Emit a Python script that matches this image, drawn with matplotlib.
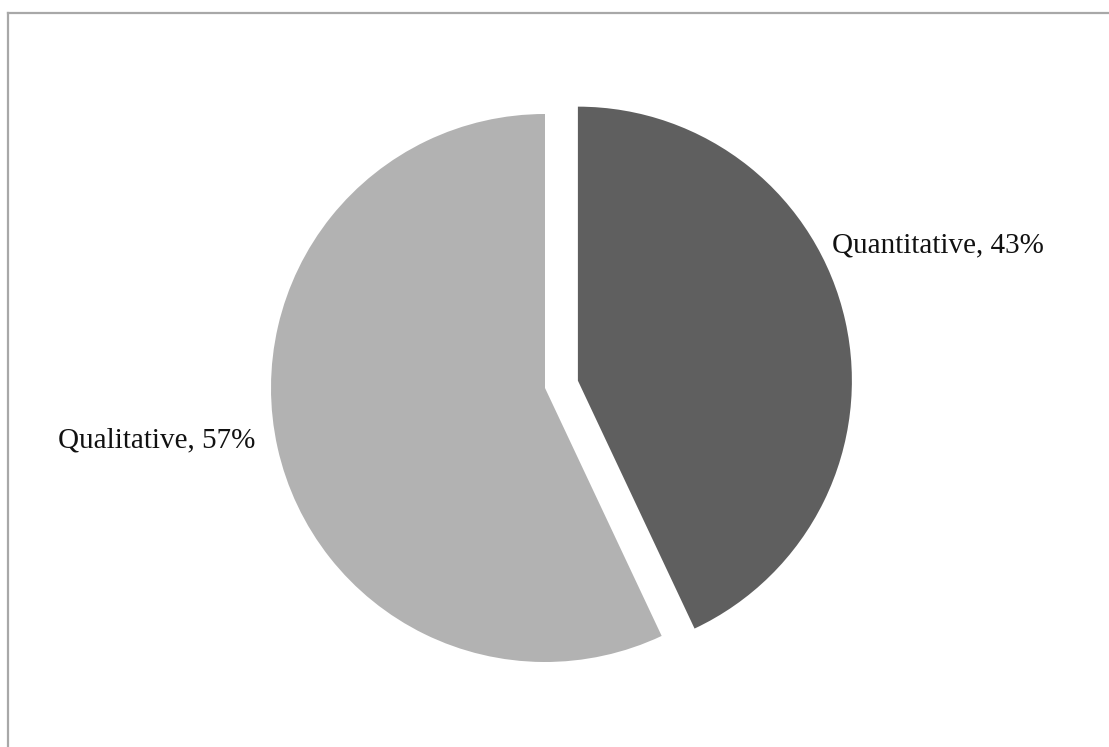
import matplotlib
matplotlib.use("Agg")
import matplotlib.pyplot as plt
from matplotlib.lines import Line2D

# data
categories = ["Quantitative", "Qualitative"]
shares = [43, 57]
colors = ["#5f5f5f", "#b2b2b2"]

W, H = 1109, 747
R = 274
fig = plt.figure(figsize=(W / 100, H / 100), dpi=100)
ax = fig.add_axes([0, 0, 1, 1])

# explode is in data units here (pixels), the dark slice is pulled out
ax.pie(shares, colors=colors, explode=[0.123 * R, 0], startangle=90,
       counterclock=False, center=(545, H - 388), radius=R,
       wedgeprops=dict(linewidth=0))
# pie resets the limits, so put the pixel frame back afterwards
ax.set_xlim(0, W)
ax.set_ylim(0, H)
ax.set_aspect("equal")
ax.axis("off")

# data labels, placed outside like the spreadsheet did
label_pos = [(938, H - 245), (157, H - 440)]
for name, val, (x, y) in zip(categories, shares, label_pos):
    ax.text(x, y, "%s, %d%%" % (name, val), ha="center", va="center",
            fontsize=21, family="Liberation Serif", color="#111111")

# chart frame (only top and left edges are visible in the crop)
fig.add_artist(Line2D([8 / W, 8 / W], [0, 1 - 13 / H], transform=fig.transFigure,
                      color="#a8a8a8", lw=1.6))
fig.add_artist(Line2D([8 / W, 1], [1 - 13 / H, 1 - 13 / H], transform=fig.transFigure,
                      color="#a8a8a8", lw=1.6))

fig.savefig("out.png", dpi=100)
